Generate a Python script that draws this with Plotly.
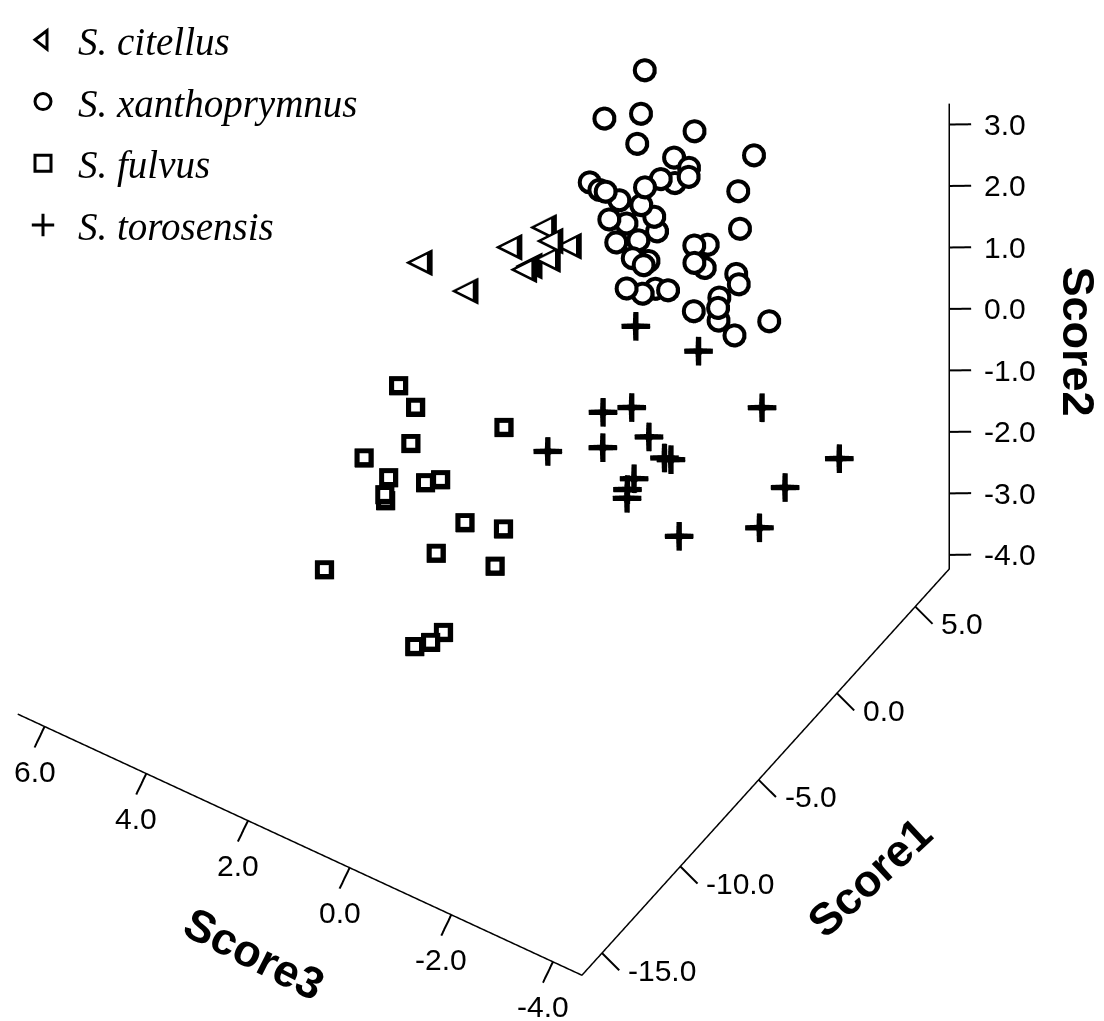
import plotly.graph_objects as go

# ---------------- data ----------------
# S. citellus
cit_s1 = [-1.05, 0.48, 0.04, 1.07, -0.46, 0.55, -0.08, 0.93, -0.97]
cit_s2 = [0.05, -0.68, 0.54, 0.71, 1.15, 0.80, 0.68, 0.03, 0.69]
cit_s3 = [3.33, 2.90, 1.90, 1.54, 0.94, 0.89, 1.11, 1.78, 1.30]

# S. xanthoprymnus
xan_s1 = [5.08, 3.93, 6.04, 4.46, 5.57, 6.43, 3.55, 4.92, 4.07, 6.11, 4.53,
          5.44, 3.47, 5.03, 5.96, 4.02, 5.12, 6.38, 4.55, 5.41, 3.94, 6.07,
          4.96, 3.58, 4.44, 5.53, 6.02, 3.97, 5.06, 6.47, 4.58, 5.47, 4.05,
          5.92, 3.52, 4.94, 4.47, 5.58, 6.09, 3.96, 5.04, 4.08, 5.46, 6.52]
xan_s2 = [2.43, 1.80, 1.31, 2.06, 0.98, 0.69, 2.48, 1.24, 1.57, -0.22, 0.38,
          -0.02, 1.17, 0.80, 0.47, 1.45, -0.28, -0.72, 0.33, -0.23, -0.13, -0.78,
          -0.67, -0.15, -1.00, -1.40, -1.42, -0.53, -0.04, -0.49, -0.13, -0.49, 0.98,
          -0.53, 0.28, -0.65, -0.64, -1.32, -1.49, -0.76, -0.70, 0.61, -0.01, -1.22]
xan_s3 = [0.78, 1.22, 1.15, -0.39, 1.08, 0.62, -1.84, -0.14, -1.37, 2.18, 1.38,
          1.39, 0.28, 0.45, 0.46, -0.41, 1.49, 1.54, 0.43, 0.64, 0.99, 1.21,
          0.98, 0.34, 0.94, 0.96, 0.86, -0.02, -0.20, -0.03, -0.35, -0.28, -1.41,
          -0.76, -1.55, -0.73, -0.85, -0.03, -0.36, -1.33, -1.68, 0.54, 1.79, 1.15]

# S. fulvus
ful_s1 = [-9.04, -10.1, -7.93, -9.46, -8.55, -9.97, -9.08, -7.96, -9.53, -8.47,
          -8.96, -10.04, -8.07, -9.44, -8.52, -9.02, -9.95, -8.03]
ful_s2 = [1.09, 1.29, 0.76, 0.41, -0.54, -0.11, -0.77, -1.31, -0.09, -0.35,
          -0.67, -0.05, -1.74, -0.96, -2.67, -3.04, -2.48, -2.99]
ful_s3 = [1.27, 0.61, -0.46, 0.90, 2.10, 1.18, 1.53, 1.86, 0.59, 0.62,
          -0.01, -1.10, 0.83, -0.75, 2.89, 0.96, 0.36, 0.70]

# S. torosensis
tor_s1 = [2.04, 2.96, 1.05, 2.46, 1.53, 1.97, 1.46, 3.04, 0.95, 2.53, 2.06,
          1.02, 1.48, 2.44, 2.97, 1.04, 1.95]
tor_s2 = [-0.59, -0.89, -1.84, -2.11, -0.76, -3.26, -2.58, -2.69, -2.08, -2.69,
          -3.09, -2.90, -3.23, -1.37, -2.46, -3.28, -2.90]
tor_s3 = [0.02, -0.93, 0.36, 0.23, -2.62, 1.73, 0.49, 0.07, -0.88, -0.52, 0.06,
          -0.13, 0.02, -3.86, -2.63, -1.14, -2.44]

species = ["S. citellus", "S. xanthoprymnus", "S. fulvus", "S. torosensis"]

# axis frame and ticks
S1_LO, S1_HI = -16.28, 7.17
S3_LO, S3_HI = -4.57, 6.53
S2_LO, S2_HI = -4.23, 3.34
score1_ticks = [-15.0, -10.0, -5.0, 0.0, 5.0]
score2_ticks = [-4.0, -3.0, -2.0, -1.0, 0.0, 1.0, 2.0, 3.0]
score3_ticks = [-4.0, -2.0, 0.0, 2.0, 4.0, 6.0]

# ---------------- styling / view ----------------
ZOOM = 1.3953
VIEW_DIR = (-0.5866, -0.3795, 0.7155)
CENTER = dict(x=0.2484, y=0.0, z=-0.4865)
DIST = 4.0
EYE = dict(x=CENTER["x"] + VIEW_DIR[0] * DIST,
           y=CENTER["y"] + VIEW_DIR[1] * DIST,
           z=CENTER["z"] + VIEW_DIR[2] * DIST)
TICK_FONT = dict(family="Liberation Sans, Arial, sans-serif", size=30, color="black")
TITLE_FONT = dict(family="Liberation Sans, Arial, sans-serif", size=45, color="black", weight="bold")

fig = go.Figure()

# triangles: black glyph + smaller white glyph
fig.add_trace(go.Scatter3d(
    x=cit_s1, y=cit_s3, z=cit_s2, mode="text", text=["◀"] * len(cit_s1),
    textposition="middle center",
    textfont=dict(family="DejaVu Sans", size=36, color="black"),
    showlegend=False, hoverinfo="skip"))
fig.add_trace(go.Scatter3d(
    x=cit_s1, y=cit_s3, z=cit_s2, mode="text", text=["◀"] * len(cit_s1),
    textposition="middle center",
    textfont=dict(family="DejaVu Sans", size=21, color="white"),
    showlegend=False, hoverinfo="skip"))
# circles: black disc + white inner disc -> thick ring with white fill
fig.add_trace(go.Scatter3d(
    x=xan_s1, y=xan_s3, z=xan_s2, mode="markers",
    marker=dict(symbol="circle", size=14, color="black", line=dict(width=0)),
    showlegend=False, hoverinfo="skip"))
fig.add_trace(go.Scatter3d(
    x=xan_s1, y=xan_s3, z=xan_s2, mode="markers",
    marker=dict(symbol="circle", size=9.2, color="white", line=dict(width=0)),
    showlegend=False, hoverinfo="skip"))
# squares
fig.add_trace(go.Scatter3d(
    x=ful_s1, y=ful_s3, z=ful_s2, mode="markers",
    marker=dict(symbol="square", size=10, color="black", line=dict(width=0)),
    showlegend=False, hoverinfo="skip"))
fig.add_trace(go.Scatter3d(
    x=ful_s1, y=ful_s3, z=ful_s2, mode="markers",
    marker=dict(symbol="square", size=4.6, color="white", line=dict(width=0)),
    showlegend=False, hoverinfo="skip"))
# crosses
fig.add_trace(go.Scatter3d(
    x=tor_s1, y=tor_s3, z=tor_s2, mode="text", text=["+"] * len(tor_s1),
    textposition="middle center",
    textfont=dict(family="DejaVu Sans", size=46, color="black", weight="bold"),
    showlegend=False, hoverinfo="skip"))

# axis frame lines
fig.add_trace(go.Scatter3d(
    x=[S1_LO, S1_LO, S1_HI, S1_HI], y=[S3_HI, S3_LO, S3_LO, S3_LO], z=[S2_LO, S2_LO, S2_LO, S2_HI],
    mode="lines", line=dict(color="black", width=3), showlegend=False, hoverinfo="skip"))

# tick marks
tx, ty, tz = [], [], []
for t in score3_ticks:
    tx += [S1_LO, S1_LO - 0.64, None]; ty += [t, t, None]; tz += [S2_LO, S2_LO - 0.16, None]
for t in score1_ticks:
    tx += [t, t, None]; ty += [S3_LO, S3_LO - 0.34, None]; tz += [S2_LO, S2_LO - 0.15, None]
for t in score2_ticks:
    tx += [S1_HI, S1_HI + 0.42, None]; ty += [S3_LO, S3_LO - 0.30, None]; tz += [t, t, None]
fig.add_trace(go.Scatter3d(x=tx, y=ty, z=tz, mode="lines", connectgaps=False,
                           line=dict(color="black", width=4), showlegend=False, hoverinfo="skip"))

# legend entries
legend_styles = [
    dict(symbol="triangle-left-open", size=16, color="black", line=dict(width=3, color="black")),
    dict(symbol="circle-open", size=16, color="black", line=dict(width=3, color="black")),
    dict(symbol="square-open", size=16, color="black", line=dict(width=3, color="black")),
    dict(symbol="cross-thin-open", size=16, color="black", line=dict(width=3, color="black")),
]
for i, (nm, st) in enumerate(zip(species, legend_styles)):
    fig.add_trace(go.Scatter(x=[None], y=[None], mode="markers", marker=st, name=nm,
                             legendgroup=f"g{i}", showlegend=True))

# annotations
ann = []
for t in score2_ticks:
    ann.append(dict(x=S1_HI, y=S3_LO, z=t, text=f"{t:.1f}", showarrow=False,
                    xanchor="left", xshift=33, font=TICK_FONT))
for t in score1_ticks:
    ann.append(dict(x=t, y=S3_LO, z=S2_LO, text=f"{t:.1f}", showarrow=False,
                    xanchor="left", xshift=24, yshift=-17, font=TICK_FONT))
for t in score3_ticks:
    ann.append(dict(x=S1_LO, y=t, z=S2_LO, text=f"{t:.1f}", showarrow=False,
                    xanchor="center", xshift=-10, yshift=-45, font=TICK_FONT))
ann.append(dict(x=S1_HI, y=S3_LO, z=-0.5, text="Score2", showarrow=False, textangle=90,
                xshift=129, yshift=-2, font=TITLE_FONT))
ann.append(dict(x=-5.0, y=S3_LO, z=S2_LO, text="Score1", showarrow=False, textangle=-43,
                xshift=111, yshift=-98, font=TITLE_FONT))
ann.append(dict(x=S1_LO, y=0.0, z=S2_LO, text="Score3", showarrow=False, textangle=27,
                xshift=-96, yshift=-86, font=TITLE_FONT))

fig.update_layout(
    width=1104, height=1021,
    margin=dict(l=0, r=0, t=0, b=0),
    paper_bgcolor="white", plot_bgcolor="white",
    hovermode=False,
    xaxis=dict(visible=False), yaxis=dict(visible=False),
    legend=dict(x=0.0, y=1.0, xanchor="left", yanchor="top",
                font=dict(family="Liberation Serif, Times New Roman, serif", size=39,
                          color="black", style="italic"),
                traceorder="grouped", tracegroupgap=8, itemwidth=60,
                bgcolor="rgba(0,0,0,0)"),
    scene=dict(
        domain=dict(x=[0.0, 1.0], y=[0.0, 1.0]),
        xaxis=dict(range=[-17.0, 7.7], visible=False),
        yaxis=dict(range=[-5.0, 6.6], visible=False),
        zaxis=dict(range=[-4.5, 3.4], visible=False),
        aspectmode="manual",
        aspectratio=dict(x=1.0 * ZOOM, y=0.986 * ZOOM, z=0.976 * ZOOM),
        camera=dict(projection=dict(type="orthographic"), eye=EYE, center=CENTER,
                    up=dict(x=0, y=0, z=1)),
        bgcolor="white",
        annotations=ann,
    ),
)

fig.write_html("out.html")
